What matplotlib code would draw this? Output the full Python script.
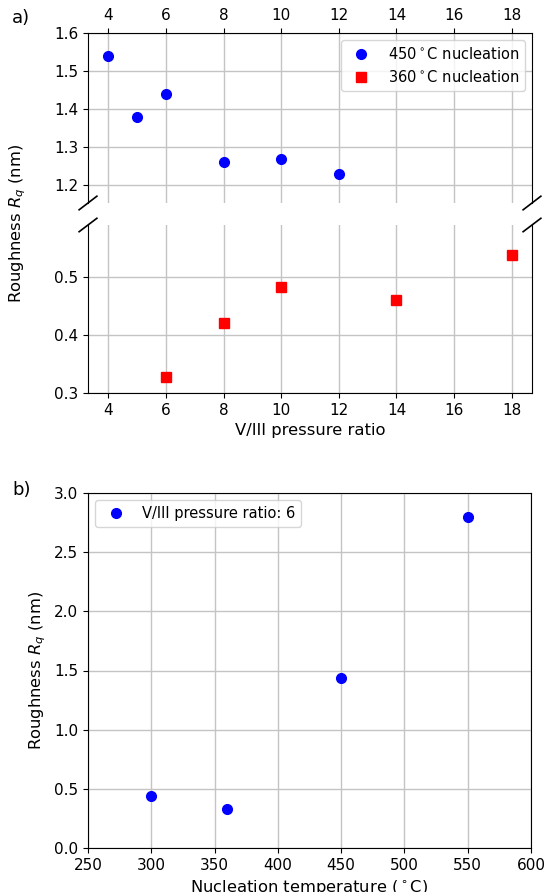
import matplotlib
matplotlib.use('Agg')
import matplotlib.pyplot as plt

# panel a: roughness vs V/III ratio
ratio_450 = [4, 5, 6, 8, 10, 12]
rq_450 = [1.54, 1.38, 1.44, 1.26, 1.27, 1.23]
ratio_360 = [6, 8, 10, 14, 18]
rq_360 = [0.328, 0.421, 0.482, 0.460, 0.538]

# panel b: roughness vs nucleation temperature
temp = [300, 360, 450, 550]
rq_temp = [0.44, 0.33, 1.44, 2.80]

W, H = 547, 892
fig = plt.figure(figsize=(W / 100, H / 100), dpi=100)

tick_fs = 11
label_fs = 11.8
leg_fs = 10.5
plt.rcParams['xtick.labelsize'] = tick_fs
plt.rcParams['ytick.labelsize'] = tick_fs
grid_col = '#c4c4c4'

def fx(px):
    return px / W

def fy(px):
    return 1 - px / H

left, right = 88, 532
ax1 = fig.add_axes([fx(left), fy(203), fx(right - left), (203 - 33) / H])
ax2 = fig.add_axes([fx(left), fy(393), fx(right - left), (393 - 225) / H], sharex=ax1)

ax1.plot(ratio_450, rq_450, 'o', color='blue', markersize=7, label='450$^\\circ$C nucleation')
ax1.plot([], [], 's', color='red', markersize=7, label='360$^\\circ$C nucleation')
ax2.plot(ratio_360, rq_360, 's', color='red', markersize=7)

ax1.set_ylim(1.153, 1.6)
ax2.set_ylim(0.3, 0.589)
ax1.set_yticks([1.2, 1.3, 1.4, 1.5, 1.6])
ax2.set_yticks([0.3, 0.4, 0.5])
ax2.set_xticks([4, 6, 8, 10, 12, 14, 16, 18])

ax1.spines['bottom'].set_visible(False)
ax2.spines['top'].set_visible(False)
ax1.xaxis.tick_top()
ax1.tick_params(labeltop=True, labelbottom=False)
ax2.xaxis.tick_bottom()

for ax in (ax1, ax2):
    ax.grid(True, color=grid_col, linewidth=1)
    ax.set_axisbelow(True)

# break marks
d = 0.02
kw = dict(color='k', clip_on=False, linewidth=1.2)
ax1.plot((-d, +d), (-d * 2, +d * 2), transform=ax1.transAxes, **kw)
ax1.plot((1 - d, 1 + d), (-d * 2, +d * 2), transform=ax1.transAxes, **kw)
ax2.plot((-d, +d), (1 - d * 2, 1 + d * 2), transform=ax2.transAxes, **kw)
ax2.plot((1 - d, 1 + d), (1 - d * 2, 1 + d * 2), transform=ax2.transAxes, **kw)

ax1.legend(loc='upper right', fontsize=leg_fs)
ax2.set_xlabel('V/III pressure ratio', fontsize=label_fs)
fig.text(fx(18), fy(223), 'Roughness $R_q$ (nm)', rotation=90, ha='center', va='center', fontsize=label_fs)
fig.text(fx(12), fy(18), 'a)', ha='left', va='center', fontsize=13)

# panel b
ax3 = fig.add_axes([fx(left), fy(848), fx(531 - left), (848 - 493) / H])
ax3.plot(temp, rq_temp, 'o', color='blue', markersize=7, label='V/III pressure ratio: 6')
ax3.set_xlim(250, 600)
ax3.set_ylim(0, 3)
ax3.grid(True, color=grid_col, linewidth=1)
ax3.set_axisbelow(True)
ax3.legend(loc='upper left', fontsize=leg_fs)
ax3.set_xlabel('Nucleation temperature ($^\\circ$C)', fontsize=label_fs)
ax3.set_ylabel('Roughness $R_q$ (nm)', fontsize=label_fs)
fig.text(fx(12), fy(490), 'b)', ha='left', va='center', fontsize=13)

fig.savefig('out.png', dpi=100)
